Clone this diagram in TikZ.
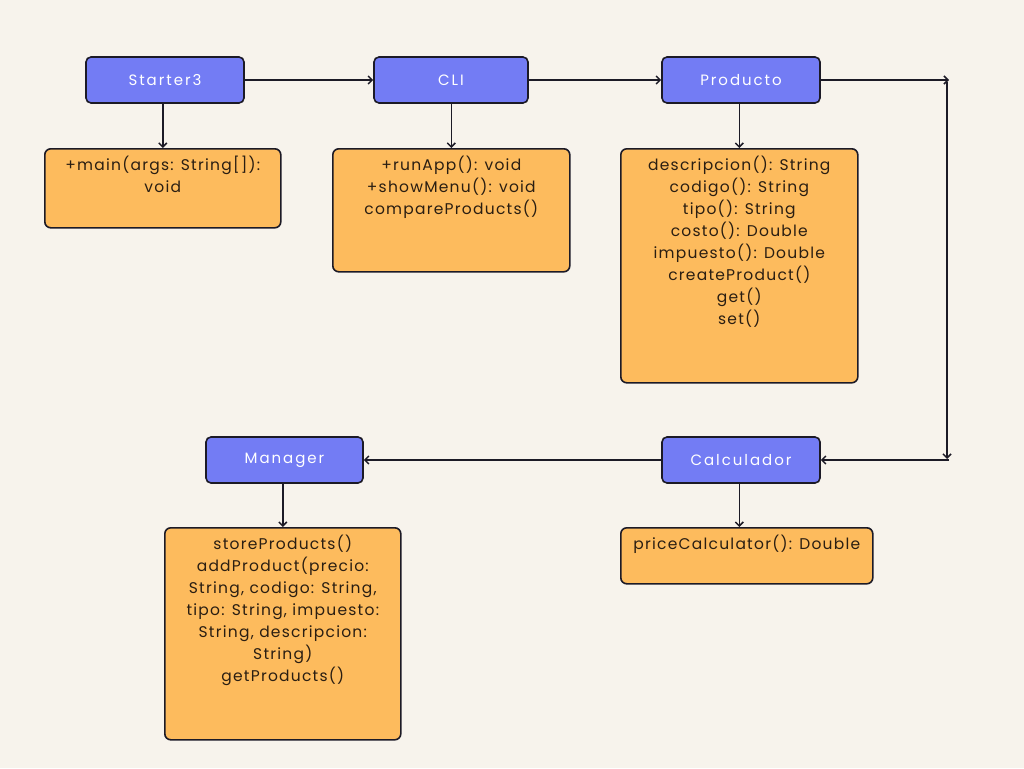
\documentclass[tikz,border=0pt]{standalone}
\usepackage{fontspec}
\setmainfont{Poppins}[LetterSpace=8]
\newfontfamily\headfont[LetterSpace=13]{Poppins}
\usetikzlibrary{arrows.meta}
\definecolor{bgcream}{HTML}{F7F3EC}
\definecolor{classblue}{HTML}{737CF4}
\definecolor{methodorange}{HTML}{FDBB5D}
\definecolor{edgedark}{HTML}{1C1A26}
\definecolor{inkdark}{HTML}{2A1E12}
\tikzset{
  classbox/.style={draw=edgedark, line width=1.6pt, fill=classblue, rounded corners=5pt,
    minimum height=46pt, text=white, font=\headfont\fontsize{15}{17}\selectfont, inner sep=0pt},
  methodbox/.style={draw=edgedark, line width=1.6pt, fill=methodorange, rounded corners=6pt,
    anchor=north west, inner sep=0pt},
  methodtext/.style={anchor=north, align=center, text=inkdark, inner sep=0pt,
    font=\fontsize{15.5}{22}\selectfont},
  link/.style={draw=edgedark, line width=1.5pt, -{Straight Barb[length=4pt,width=8pt,line width=1.5pt]}}
}
\begin{document}
\begin{tikzpicture}[x=1pt,y=-1pt]
  \fill[bgcream] (0,0) rectangle (1024,768);
  \useasboundingbox (0,0) rectangle (1024,768);

  % class headers
  \node[classbox, minimum width=158pt] (st) at (165,80) {Starter3};
  \node[classbox, minimum width=154pt] (cli) at (451,80) {CLI};
  \node[classbox, minimum width=158pt] (pr) at (741,80) {Producto};
  \node[classbox, minimum width=157pt] (ma) at (284.5,460) {Manager};
  \node[classbox, minimum width=158pt] (ca) at (741,460) {Calculador};

  % method boxes
  \node[methodbox, minimum width=236pt, minimum height=79pt] (stm) at (44,148) {};
  \node[methodbox, minimum width=237pt, minimum height=123pt] (clim) at (332,148) {};
  \node[methodbox, minimum width=237pt, minimum height=234pt] (prm) at (620,148) {};
  \node[methodbox, minimum width=236pt, minimum height=212pt] (mam) at (164,527) {};
  \node[methodbox, minimum width=252pt, minimum height=56pt] (cam) at (620,527) {};

  % method lists
  \node[methodtext] (stt) at ([yshift=-8pt]stm.north) {+main(args: String[]):\\void};
  \node[methodtext] (clit) at ([yshift=-8pt]clim.north) {+runApp(): void\\+showMenu(): void\\compareProducts()};
  \node[methodtext] (prt) at ([yshift=-8pt]prm.north) {descripcion(): String\\codigo(): String\\tipo(): String\\costo(): Double\\impuesto(): Double\\createProduct()\\get()\\set()};
  \node[methodtext] (mat) at ([yshift=-8pt]mam.north) {storeProducts()\\addProduct(precio:\\String, codigo: String,\\tipo: String, impuesto:\\String, descripcion:\\String)\\getProducts()};
  \node[methodtext] (cat) at ([yshift=-8pt]cam.north) {priceCalculator(): Double};

  % header to method list
  \draw[link] (stm.north |- st.south) -- (stm.north);
  \draw[link] (clim.north |- cli.south) -- (clim.north);
  \draw[link] (prm.north |- pr.south) -- (prm.north);
  \draw[link] (mam.north |- ma.south) -- (mam.north);
  \draw[link] (prm.north |- ca.south) -- (cam.north -| prm.north);

  % flow between classes
  \coordinate (r1) at (949,80);
  \coordinate (r2) at (947,82);
  \coordinate (r3) at (947,459);
  \coordinate (r4) at (949,460);
  \draw[link] (st.east) -- (cli.west);
  \draw[link] (cli.east) -- (pr.west);
  \draw[link] (pr.east) -- (r1);
  \draw[link] (r2) -- (r3);
  \draw[link] (r4) -- (ca.east);
  \draw[link] (ca.west) -- (ma.east);
\end{tikzpicture}
\end{document}
